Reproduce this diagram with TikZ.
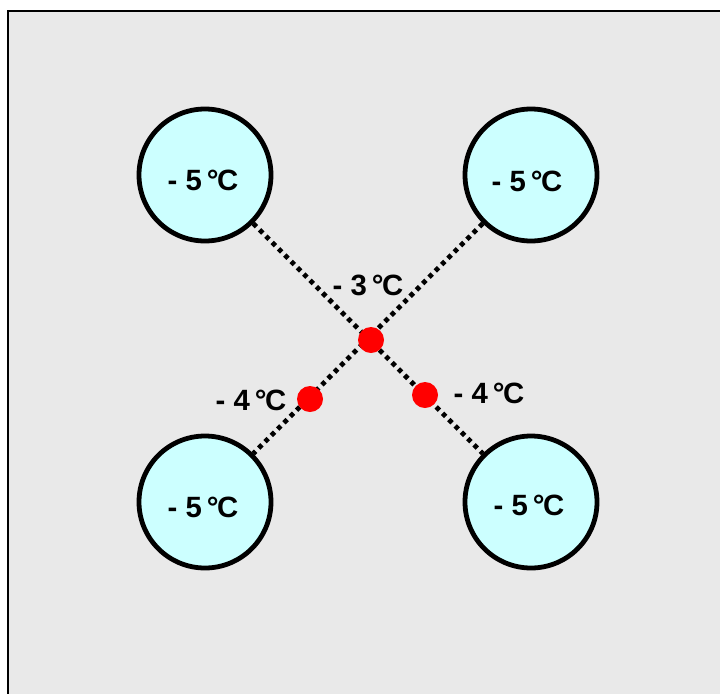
\documentclass[tikz,border=0pt]{standalone}
\usepackage{fontspec}
\setmainfont{Liberation Sans}
\definecolor{wellfill}{RGB}{204,255,255}
\definecolor{panelfill}{RGB}{233,233,233}
\begin{document}
\begin{tikzpicture}[x=0.75pt,y=-0.75pt,
  panel/.style={draw=black,line width=1.8pt,fill=panelfill},
  well/.style={circle,draw=black,line width=3.6pt,fill=wellfill,minimum size=132*0.75pt,inner sep=0pt},
  probe/.style={circle,fill=red,minimum size=26*0.75pt,inner sep=0pt},
  link/.style={draw=black,line width=3.6pt,dash pattern=on 3.4pt off 3.3pt},
  temp/.style={font=\fontsize{22}{24}\selectfont\bfseries,inner sep=0pt}]
\useasboundingbox (0,0) rectangle (720,693);
\clip (0,0) rectangle (720,693);
% outer panel (extends beyond the right and bottom edges)
\draw[panel] (8,11) rectangle (740,720);
% wells
\node[well] (w1) at (205,175) {};
\node[well] (w2) at (531,175) {};
\node[well] (w3) at (205,502) {};
\node[well] (w4) at (531,502) {};
% dotted links between diagonal wells
\draw[link] (w1) -- (w4);
\draw[link] (w2) -- (w3);
% measuring points
\node[probe] (pc) at (371,340) {};
\node[probe] (pl) at (310,399) {};
\node[probe] (pr) at (425,395) {};
% temperatures
\node[temp] (t1) at (203,180) {- 5\,°\kern-1ptC};
\node[temp] (t2) at (527,181) {- 5\,°\kern-1ptC};
\node[temp] (t3) at (203,507) {- 5\,°\kern-1ptC};
\node[temp] (t4) at (529,505) {- 5\,°\kern-1ptC};
\node[temp] (t5) at (368,285) {- 3\,°\kern-1ptC};
\node[temp] (t6) at (251,400) {- 4\,°\kern-1ptC};
\node[temp] (t7) at (489,393) {- 4\,°\kern-1ptC};
\end{tikzpicture}
\end{document}
